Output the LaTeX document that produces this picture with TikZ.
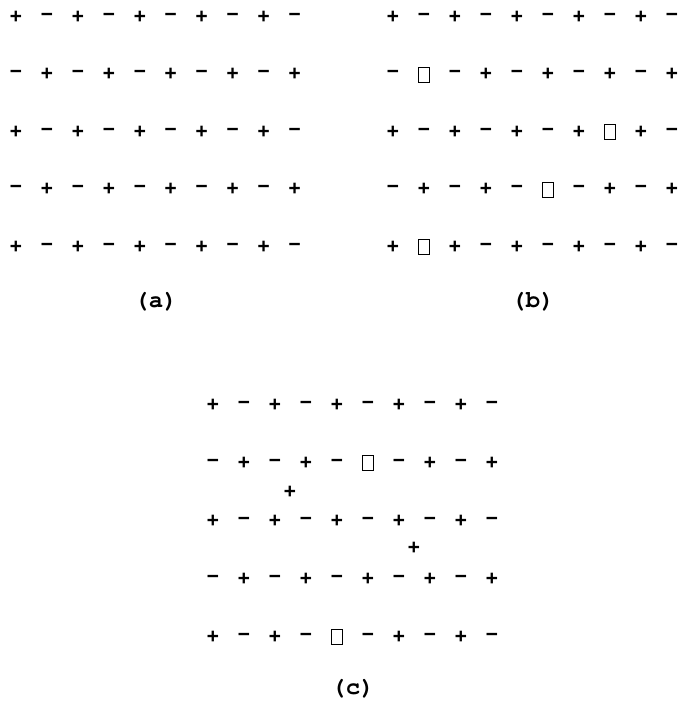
\documentclass[tikz,border=0pt]{standalone}
\usepackage{fontspec}
\setmainfont{TeX Gyre Cursor}
\newfontfamily\signfont{Liberation Mono}
\begin{document}
\begin{tikzpicture}[x=1pt,y=-1pt,
  sign/.style={font=\signfont\fontsize{21}{21}\selectfont\bfseries, inner sep=0pt},
  hole/.style={draw, line width=0.8pt, minimum width=11pt, minimum height=15pt, inner sep=0pt},
  lab/.style={font=\fontsize{24}{24}\selectfont\bfseries, inner sep=0pt}]
\useasboundingbox (0,0) rectangle (680,702);
% panel (a)
\foreach \j in {0,...,4}{
  \foreach \i in {0,...,9}{
    \pgfmathtruncatemacro{\sgn}{mod(\i+\j,2)}
    \ifnum\sgn=0
      \node[sign] (a-\i-\j) at ({16+30.95*\i},{17+57.5*\j}) {+};
    \else
      \node[sign] (a-\i-\j) at ({16+30.95*\i},{17+57.5*\j}) {−};
    \fi
  }
}
\node[lab] (la) at (156,302) {(a)};
% panel (b)
\foreach \j in {0,...,4}{
  \foreach \i in {0,...,9}{
    \pgfmathtruncatemacro{\sgn}{mod(\i+\j,2)}
    \def\ishole{0}
    \ifnum\i=1 \ifnum\j=1 \def\ishole{1}\fi\fi
    \ifnum\i=7 \ifnum\j=2 \def\ishole{1}\fi\fi
    \ifnum\i=5 \ifnum\j=3 \def\ishole{1}\fi\fi
    \ifnum\i=1 \ifnum\j=4 \def\ishole{1}\fi\fi
    \ifnum\ishole=1
      \node[hole] (b-\i-\j) at ({393+31*\i},{17+57.5*\j}) {};
    \else
      \ifnum\sgn=0
        \node[sign] (b-\i-\j) at ({393+31*\i},{17+57.5*\j}) {+};
      \else
        \node[sign] (b-\i-\j) at ({393+31*\i},{17+57.5*\j}) {−};
      \fi
    \fi
  }
}
\node[lab] (lb) at (533,302) {(b)};
% panel (c)
\foreach \j in {0,...,4}{
  \foreach \i in {0,...,9}{
    \pgfmathtruncatemacro{\sgn}{mod(\i+\j,2)}
    \def\ishole{0}
    \ifnum\i=5 \ifnum\j=1 \def\ishole{1}\fi\fi
    \ifnum\i=4 \ifnum\j=4 \def\ishole{1}\fi\fi
    \ifnum\ishole=1
      \node[hole] (c-\i-\j) at ({213+31*\i},{405+58*\j}) {};
    \else
      \ifnum\sgn=0
        \node[sign] (c-\i-\j) at ({213+31*\i},{405+58*\j}) {+};
      \else
        \node[sign] (c-\i-\j) at ({213+31*\i},{405+58*\j}) {−};
      \fi
    \fi
  }
}
\node[sign] (cx1) at (290,492) {+};
\node[sign] (cx2) at (414,548) {+};
\node[lab] (lc) at (353,689) {(c)};
\end{tikzpicture}
\end{document}
